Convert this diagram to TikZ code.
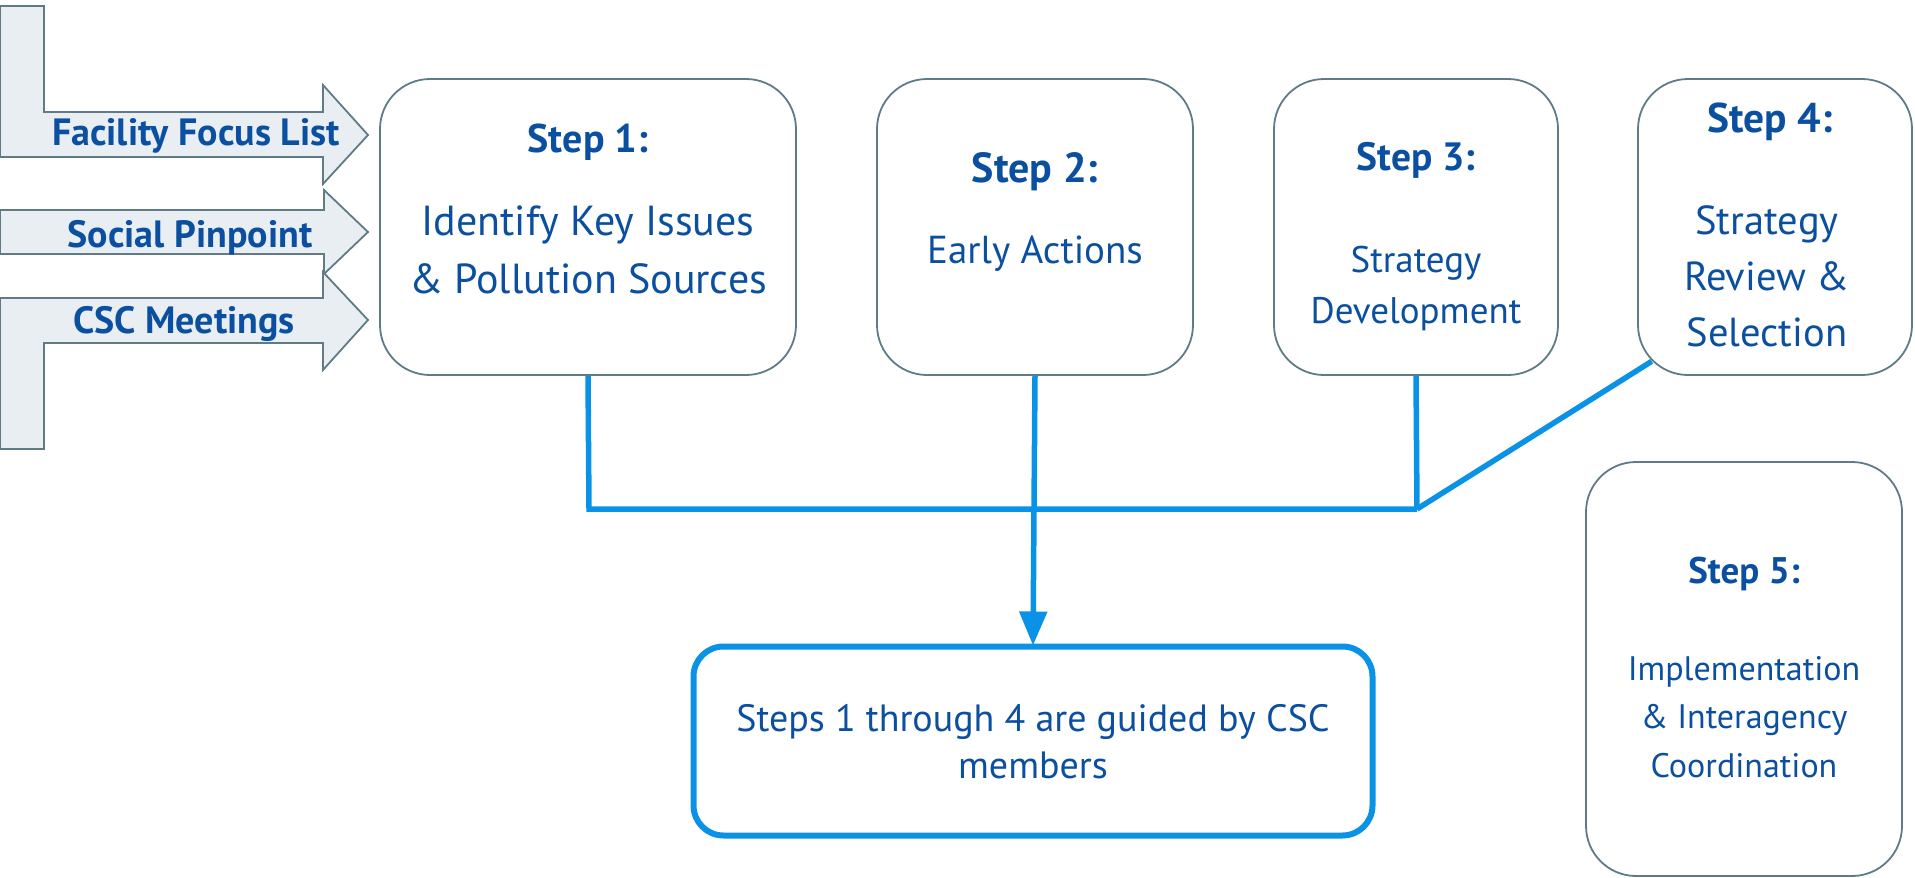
\documentclass[tikz,border=0pt]{standalone}
\usepackage{fontspec}
\setmainfont{PT Sans}
\usetikzlibrary{arrows.meta,calc}
\definecolor{gline}{HTML}{5F7B88}
\definecolor{gfill}{HTML}{E9EEF2}
\definecolor{tblue}{HTML}{0B4FA0}
\definecolor{cblue}{HTML}{0A93E6}
\begin{document}
\begin{tikzpicture}[x=1pt,y=-1pt,
  stepbox/.style={draw=gline, line width=1.8pt, rounded corners=50pt, fill=white, inner sep=0pt},
  cscbox/.style={draw=cblue, line width=6pt, rounded corners=30pt, fill=white, inner sep=0pt},
  inarrow/.style={draw=gline, line width=1.8pt, fill=gfill, line join=miter},
  conn/.style={draw=cblue, line width=5.5pt},
  txt/.style={text=tblue, anchor=base, inner sep=0pt},
  hd/.style={txt, font=\bfseries\fontsize{40}{40}\selectfont},
  big/.style={txt, font=\fontsize{42}{42}\selectfont},
  lbl/.style={txt, font=\bfseries\fontsize{38}{38}\selectfont}]
\useasboundingbox (0,0) rectangle (1915,878);
% input arrows
\draw[inarrow] (0,6) -- (44,6) -- (44,112) -- (323,112) -- (323,85) -- (368,135) -- (323,184) -- (323,157) -- (0,157) -- cycle;
\draw[inarrow] (0,210) -- (324,210) -- (324,190) -- (368,232) -- (324,274) -- (324,254) -- (0,254) -- cycle;
\draw[inarrow] (0,298) -- (323,298) -- (323,272) -- (368,320) -- (323,370) -- (323,343) -- (44,343) -- (44,449) -- (0,449) -- cycle;
\node[lbl] (ffl) at (196,145) {Facility Focus List};
\node[lbl] (sp) at (190,247) {Social Pinpoint};
\node[lbl] (cscm) at (184,333) {CSC Meetings};
% step boxes
\node[stepbox, minimum width=416, minimum height=296] (s1) at (588,227) {};
\node[stepbox, minimum width=316, minimum height=296] (s2) at (1035,227) {};
\node[stepbox, minimum width=284, minimum height=296] (s3) at (1416,227) {};
\node[stepbox, minimum width=274, minimum height=296] (s4) at (1775,227) {};
\node[stepbox, minimum width=316, minimum height=414] (s5) at (1744,669) {};
\node[cscbox, minimum width=679, minimum height=189] (csc) at (1033,741) {};
% connectors
\coordinate (j1) at (589,509);
\coordinate (j3) at (1417,509);
\draw[conn, line join=miter] (s1.south) -- (j1) -- (j3);
\draw[conn] (s3.south) -- (j3);
\draw[conn, line join=round] (j3) -- ($(s4.south west)+(14.6,-14.6)$);
\draw[conn, -{Triangle[length=34pt,width=27pt]}] (s2.south) -- ($(csc.north)+(0,2)$);
% texts
\node[hd] (t1a) at (588,152) {Step 1:};
\node[big] (t1b) at (588,235) {Identify Key Issues};
\node[big] (t1c) at (588,293) {\& Pollution Sources};
\node[hd, font=\bfseries\fontsize{42}{42}\selectfont] (t2a) at (1035,182) {Step 2:};
\node[txt, font=\fontsize{39}{39}\selectfont] (t2b) at (1035,263) {Early Actions};
\node[hd, font=\bfseries\fontsize{39.5}{39.5}\selectfont] (t3a) at (1416,170) {Step 3:};
\node[txt, font=\fontsize{37}{37}\selectfont] (t3b) at (1416,272) {Strategy};
\node[txt, font=\fontsize{37}{37}\selectfont] (t3c) at (1416,323) {Development};
\node[hd, font=\bfseries\fontsize{41.5}{41.5}\selectfont] (t4a) at (1770,132) {Step 4:};
\node[txt, font=\fontsize{40.5}{40.5}\selectfont] (t4b) at (1767,234) {Strategy};
\node[txt, font=\fontsize{40.5}{40.5}\selectfont] (t4c) at (1767,290) {Review \&};
\node[txt, font=\fontsize{40.5}{40.5}\selectfont] (t4d) at (1767,346) {Selection};
\node[hd, font=\bfseries\fontsize{37}{37}\selectfont] (t5a) at (1744,583) {Step 5:};
\node[txt, font=\fontsize{34}{34}\selectfont] (t5b) at (1744,680) {Implementation};
\node[txt, font=\fontsize{34}{34}\selectfont] (t5c) at (1744,728) {\& Interagency};
\node[txt, font=\fontsize{34}{34}\selectfont] (t5d) at (1744,777) {Coordination};
\node[txt, font=\fontsize{38}{38}\selectfont] (tca) at (1033,731) {Steps 1 through 4 are guided by CSC};
\node[txt, font=\fontsize{38}{38}\selectfont] (tcb) at (1033,778) {members};
\end{tikzpicture}
\end{document}
